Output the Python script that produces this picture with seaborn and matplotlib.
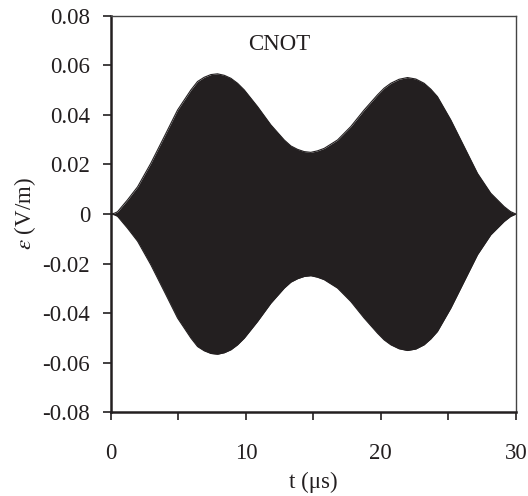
import matplotlib
matplotlib.use("Agg")
import matplotlib.pyplot as plt
import seaborn as sns
import pandas as pd
import numpy as np
from matplotlib.ticker import FuncFormatter, MultipleLocator

# envelope of the CNOT pulse (t in us, amplitude in V/m)
t_us = [0, 0.25, 0.49, 1.23, 1.98, 2.96, 3.95, 4.94, 5.93, 6.42, 6.91, 7.41,
        7.9, 8.4, 8.89, 9.38, 9.88, 10.86, 11.85, 12.84, 13.33, 13.83, 14.32,
        14.81, 15.3, 15.8, 16.79, 17.77, 18.76, 19.75, 20.24, 20.74, 21.35,
        21.97, 22.59, 23.2, 23.7, 24.19, 25.18, 26.17, 27.16, 28.14, 29.13,
        29.6, 30]
env = [0, 0.0003, 0.0009, 0.0057, 0.011, 0.0205, 0.0312, 0.042, 0.0501,
       0.0535, 0.0552, 0.0563, 0.0566, 0.0560, 0.0548, 0.0528, 0.0501, 0.0434,
       0.036, 0.0299, 0.0275, 0.0261, 0.0252, 0.0249, 0.0255, 0.0265, 0.0299,
       0.0353, 0.042, 0.0481, 0.0508, 0.0528, 0.0544, 0.0551, 0.0545, 0.0528,
       0.0504, 0.0474, 0.038, 0.0272, 0.0164, 0.0084, 0.003, 0.001, 0]

x_ticks = [0, 10, 20, 30]
y_ticks = [-0.08, -0.06, -0.04, -0.02, 0, 0.02, 0.04, 0.06, 0.08]
gate_label = "CNOT"

sns.set_style("ticks")
plt.rcParams["font.family"] = ["Liberation Serif", "DejaVu Serif"]
plt.rcParams["mathtext.fontset"] = "stix"
plt.rcParams["axes.unicode_minus"] = False

df = pd.DataFrame({"t": t_us, "up": env, "down": [-v for v in env]})
ink = "#231f20"
fs = 16.5

fig = plt.figure(figsize=(5.28, 4.96), dpi=100)
ax = fig.add_axes([0.210, 0.169, 0.767, 0.799])

ax.fill_between(df["t"], df["down"], df["up"], color=ink, linewidth=0)
sns.lineplot(data=df, x="t", y="up", ax=ax, color=ink, linewidth=0.8)
sns.lineplot(data=df, x="t", y="down", ax=ax, color=ink, linewidth=0.8)

ax.set_xlim(0, 30)
ax.set_ylim(-0.08, 0.08)
ax.set_xticks(x_ticks)
ax.xaxis.set_minor_locator(MultipleLocator(5))
ax.set_yticks(y_ticks)
ax.yaxis.set_major_formatter(FuncFormatter(lambda v, p: "0" if abs(v) < 1e-9 else f"{v:.2f}"))

ax.tick_params(axis="both", which="both", direction="out", color=ink, width=1.2,
               labelsize=fs, labelcolor=ink)
ax.tick_params(axis="x", which="major", length=6, pad=16)
ax.tick_params(axis="x", which="minor", length=6)
ax.tick_params(axis="y", which="major", length=6, pad=9)

for side in ["left", "bottom"]:
    ax.spines[side].set_linewidth(1.8)
    ax.spines[side].set_color(ink)
for side in ["top", "right"]:
    ax.spines[side].set_visible(True)
    ax.spines[side].set_linewidth(1.0)
    ax.spines[side].set_color("#444444")

ax.set_xlabel("t (\u03bcs)", fontsize=fs, color=ink, labelpad=6)
ax.set_ylabel(r"$\varepsilon$ (V/m)", fontsize=fs, color=ink, labelpad=3)
ax.text(12.5, 0.0685, gate_label, fontsize=fs, color=ink, ha="center", va="center")

fig.savefig("out.png", dpi=100)
